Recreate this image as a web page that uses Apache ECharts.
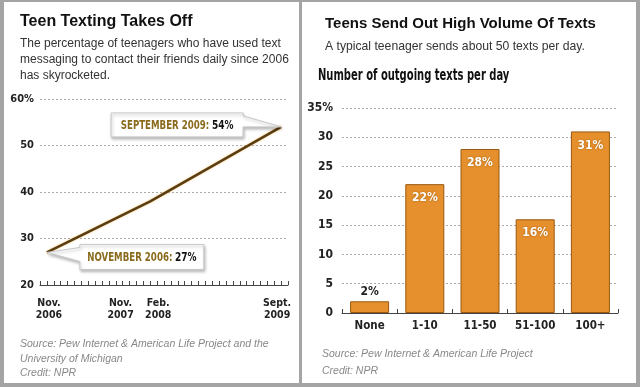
<!DOCTYPE html>
<html><head><meta charset="utf-8">
<script src="https://cdn.jsdelivr.net/npm/echarts@6/dist/echarts.min.js"></script>
<style>html,body{margin:0;padding:0;background:#a4a4a4;}#c{width:640px;height:387px;}</style>
</head><body><div id="c"></div>
<script>
// Left chart: months since Nov 2006
const lineMonths = [0, 15, 34];
const lineValues = [27, 38, 54];
const lineTickLabels = {0: 'Nov.\n2006', 12: 'Nov.\n2007', 15: 'Feb.\n2008', 34: 'Sept.\n2009'};
const leftYTicks = [20, 30, 40, 50, 60];
const callouts = [
  {month: 34, value: 54, head: 'SEPTEMBER 2009:', tail: '54%'},
  {month: 0, value: 27, head: 'NOVEMBER 2006:', tail: '27%'}
];
// Right chart
const barCategories = ['None', '1-10', '11-50', '51-100', '100+'];
const barValues = [2, 22, 28, 16, 31];

const NARROW = '"DejaVu Sans Condensed", "Liberation Sans Narrow", "Liberation Sans", Arial, sans-serif';
const SANS = '"Liberation Sans", Arial, sans-serif';
const GOLD = '#8a6a1c';

const chart = echarts.init(document.getElementById('c'), null, {renderer: 'canvas'});

const option = {
  backgroundColor: 'transparent',
  animation: false,
  graphic: [
    {type: 'rect', z: -10, shape: {x: 4, y: 2, width: 295, height: 381}, style: {fill: '#fff'}},
    {type: 'rect', z: -10, shape: {x: 302, y: 2, width: 334, height: 381}, style: {fill: '#fff'}},
    {type: 'text', x: 318, y: 76, scaleX: 0.74, z: 10,
      style: {text: 'Number of outgoing texts per day', fontFamily: NARROW, fontSize: 15, fontWeight: 'bold', fill: '#111', verticalAlign: 'middle'}}
  ],
  title: [
    {text: 'Teen Texting Takes Off', left: 15, top: 9, textStyle: {fontFamily: SANS, fontSize: 16, fontWeight: 'bold', color: '#111'}},
    {text: 'The percentage of teenagers who have used text\nmessaging to contact their friends daily since 2006\nhas skyrocketed.', left: 15, top: 31,
      textStyle: {fontFamily: SANS, fontSize: 12, fontWeight: 'normal', color: '#333', lineHeight: 16}},
    {text: 'Source: Pew Internet & American Life Project and the\nUniversity of Michigan\nCredit: NPR', left: 15, top: 332,
      textStyle: {fontFamily: SANS, fontSize: 10.5, fontStyle: 'italic', fontWeight: 'normal', color: '#888', lineHeight: 14.5}},
    {text: 'Teens Send Out High Volume Of Texts', left: 320, top: 11, textStyle: {fontFamily: SANS, fontSize: 15, fontWeight: 'bold', color: '#111'}},
    {text: 'A typical teenager sends about 50 texts per day.', left: 320, top: 36, textStyle: {fontFamily: SANS, fontSize: 12.2, fontWeight: 'normal', color: '#333'}},
    {text: 'Source: Pew Internet & American Life Project\nCredit: NPR', left: 317, top: 341,
      textStyle: {fontFamily: SANS, fontSize: 10.5, fontStyle: 'italic', fontWeight: 'normal', color: '#888', lineHeight: 16.5}}
  ],
  grid: [
    {left: 40, top: 99, width: 248, height: 186},
    {left: 342, top: 108, width: 276, height: 205}
  ],
  xAxis: [
    {
      gridIndex: 0, type: 'value', min: -1, max: 35, interval: 1,
      axisLine: {show: true, lineStyle: {color: '#444', width: 1}},
      axisTick: {show: true, inside: true, length: 4, lineStyle: {color: '#444'}},
      splitLine: {show: false},
      axisLabel: {
        margin: 12, interval: 0, showMinLabel: true, showMaxLabel: true,
        fontFamily: NARROW, fontSize: 10.5, fontWeight: 'bold', color: '#222', lineHeight: 12,
        formatter: function (v) {
          const t = lineTickLabels[v];
          if (!t) return '';
          if (v === 12) return '{l|' + t.split('\n').join('}\n{l|') + '}';
          if (v === 15) return '{r|' + t.split('\n').join('}\n{r|') + '}';
          if (v === 34) return '{e|' + t.split('\n').join('}\n{e|') + '}';
          return '{c|' + t.split('\n').join('}\n{c|') + '}';
        },
        rich: {
          c: {fontFamily: NARROW, fontSize: 10.5, fontWeight: 'bold', color: '#222', lineHeight: 12, padding: [0, 0, 0, 4]},
          l: {fontFamily: NARROW, fontSize: 10.5, fontWeight: 'bold', color: '#222', lineHeight: 12, padding: [0, 18, 0, 0]},
          r: {fontFamily: NARROW, fontSize: 10.5, fontWeight: 'bold', color: '#222', lineHeight: 12, padding: [0, 0, 0, 16]},
          e: {fontFamily: NARROW, fontSize: 10.5, fontWeight: 'bold', color: '#222', lineHeight: 12, padding: [0, 8, 0, 0]}
        }
      }
    },
    {
      gridIndex: 1, type: 'category', data: barCategories,
      axisLine: {show: true, lineStyle: {color: '#444'}},
      axisTick: {show: true, inside: true, length: 4, lineStyle: {color: '#444'}},
      axisLabel: {margin: 7, fontFamily: NARROW, fontSize: 11.5, fontWeight: 'bold', color: '#222'}
    }
  ],
  yAxis: [
    {
      gridIndex: 0, type: 'value', min: 20, max: 60, interval: 10,
      axisLine: {show: false}, axisTick: {show: false},
      splitLine: {show: true, lineStyle: {color: '#aaa', type: [2, 2], width: 1}},
      axisLabel: {margin: 6, fontFamily: NARROW, fontSize: 11, fontWeight: 'bold', color: '#222',
        formatter: v => (v === 60 ? v + '%' : String(v))}
    },
    {
      gridIndex: 1, type: 'value', min: 0, max: 35, interval: 5,
      axisLine: {show: false}, axisTick: {show: false},
      splitLine: {show: true, lineStyle: {color: '#aaa', type: [2, 2], width: 1}},
      axisLabel: {margin: 9, fontFamily: NARROW, fontSize: 12, fontWeight: 'bold', color: '#222',
        formatter: v => (v === 35 ? v + '%' : String(v))}
    }
  ],
  series: [
    {
      type: 'line', xAxisIndex: 0, yAxisIndex: 0,
      data: lineMonths.map((m, i) => [m, lineValues[i]]),
      showSymbol: false, symbol: 'none',
      lineStyle: {color: '#5a3d12', width: 2.5, shadowColor: 'rgba(245,190,90,0.9)', shadowBlur: 2},
      z: 3
    },
    {
      type: 'custom', xAxisIndex: 0, yAxisIndex: 0, z: 5,
      data: callouts.map(c => [c.month, c.value]),
      renderItem: function (params, api) {
        const c = callouts[params.dataIndex];
        const p = api.coord([api.value(0), api.value(1)]);
        let box, poly;
        if (params.dataIndex === 0) {
          box = {x: p[0] - 170, y: p[1] - 14, w: 132, h: 24};
          poly = [[box.x, box.y], [box.x + box.w, box.y], [box.x + box.w, box.y + 3], [p[0], p[1]],
                  [box.x + box.w, box.y + 14], [box.x + box.w, box.y + box.h], [box.x, box.y + box.h]];
        } else {
          box = {x: p[0] + 33, y: p[1] - 8, w: 124, h: 25};
          poly = [[box.x, box.y], [box.x + box.w, box.y], [box.x + box.w, box.y + box.h], [box.x, box.y + box.h],
                  [box.x, box.y + 17], [p[0], p[1]], [box.x, box.y + 3]];
        }
        return {
          type: 'group',
          children: [
            {type: 'polygon', shape: {points: poly},
              style: {fill: '#fff', stroke: '#c8c8c8', lineWidth: 1, shadowColor: 'rgba(0,0,0,0.25)', shadowBlur: 3, shadowOffsetX: 1, shadowOffsetY: 2}},
            {type: 'text', x: box.x + box.w / 2, y: box.y + box.h / 2 + 1, scaleX: 0.8,
              style: {
                text: '{a|' + c.head + '} {b|' + c.tail + '}',
                align: 'center', verticalAlign: 'middle',
                rich: {
                  a: {fontFamily: NARROW, fontSize: 12, fontWeight: 'bold', fill: GOLD},
                  b: {fontFamily: NARROW, fontSize: 12.5, fontWeight: 'bold', fill: '#111'}
                }
              }}
          ]
        };
      }
    },
    {
      type: 'bar', xAxisIndex: 1, yAxisIndex: 1,
      data: barValues.map((v, i) => i === 0
        ? {value: v, label: {position: 'top', color: '#222', textShadowBlur: 0, distance: 3}}
        : v),
      barWidth: 39,
      itemStyle: {color: '#E5902C', borderColor: '#9a5810', borderWidth: 1},
      label: {
        show: true, position: 'insideTop', distance: 8,
        formatter: '{c}%', fontFamily: NARROW, fontSize: 12, fontWeight: 'bold', color: '#fff',
        textShadowColor: 'rgba(120,60,0,0.6)', textShadowBlur: 2
      }
    }
  ]
};
chart.setOption(option);
</script>
</body></html>
